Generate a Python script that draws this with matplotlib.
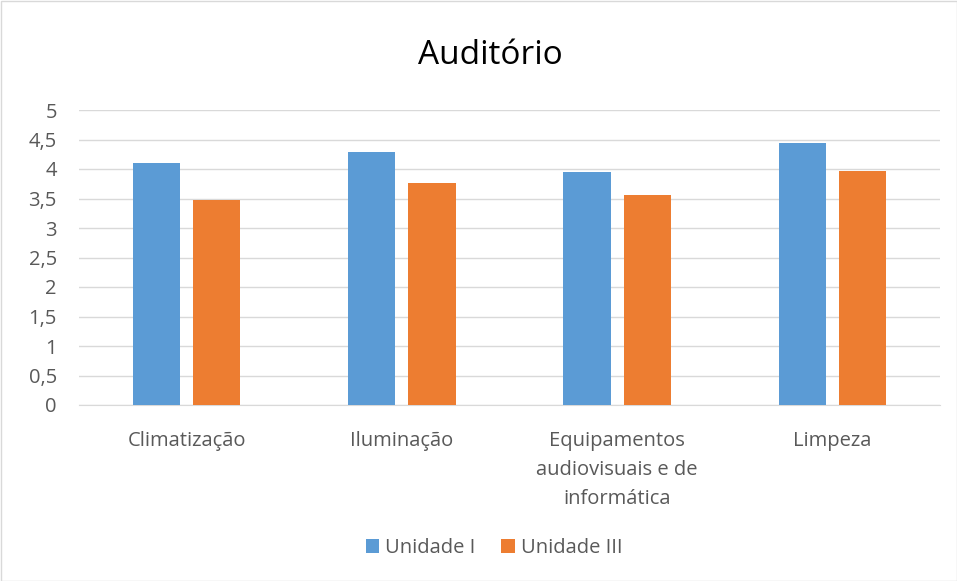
import matplotlib
matplotlib.use("Agg")
import matplotlib.pyplot as plt
import numpy as np
from matplotlib.patches import Rectangle

categories = ["Climatização", "Iluminação", "Equipamentos\naudiovisuais e de\ninformática", "Limpeza"]
series_names = ["Unidade I", "Unidade III"]
unidade_1 = [4.11, 4.29, 3.95, 4.44]
unidade_3 = [3.48, 3.76, 3.56, 3.97]
yticks = [0, 0.5, 1, 1.5, 2, 2.5, 3, 3.5, 4, 4.5, 5]
ytick_labels = ["0", "0,5", "1", "1,5", "2", "2,5", "3", "3,5", "4", "4,5", "5"]

plt.rcParams['font.family'] = ['Open Sans', 'DejaVu Sans']
text_color = "#595959"
blue = "#5B9BD5"
orange = "#ED7D31"

fig = plt.figure(figsize=(9.57, 5.81), dpi=100)
ax = fig.add_axes([79/957, 1-405/581, (940-79)/957, (405-110)/581])

x = np.arange(len(categories))
w = 0.219
off = 0.14
ax.bar(x - off, unidade_1, w, color=blue, label=series_names[0], zorder=3)
ax.bar(x + off, unidade_3, w, color=orange, label=series_names[1], zorder=3)

ax.set_xlim(-0.5, len(categories) - 0.5)
ax.set_ylim(0, 5)
ax.set_yticks(yticks)
ax.set_yticklabels(ytick_labels)
ax.set_xticks(x)
ax.set_xticklabels(categories, linespacing=1.6)
ax.yaxis.grid(True, color="#D9D9D9", linewidth=1, zorder=0)
ax.set_axisbelow(True)
for s in ["top", "right", "left"]:
    ax.spines[s].set_visible(False)
ax.spines["bottom"].set_color("#D9D9D9")
ax.tick_params(axis="both", length=0, colors=text_color, labelsize=14.5)
ax.tick_params(axis="y", pad=16)
ax.tick_params(axis="x", pad=19)

fig.text(490/957, 1-56/581, "Auditório", ha="center", va="center", fontsize=24, color="#000000")

leg = fig.legend(loc="center", bbox_to_anchor=(494/957, 1-548/581), ncol=2, frameon=False,
                 fontsize=14.5, handlelength=0.65, handleheight=0.65, handletextpad=0.3,
                 columnspacing=1.3, labelcolor=text_color)

fig.patches.append(Rectangle((0.5/957, 0.5/581), 1-1/957, 1-1/581, transform=fig.transFigure,
                             fill=False, edgecolor="#D9D9D9", linewidth=1))

fig.savefig("out.png", dpi=100)
